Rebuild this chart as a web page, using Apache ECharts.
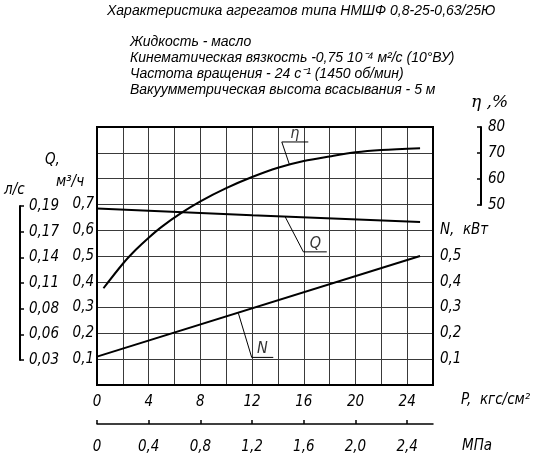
<!DOCTYPE html>
<html><head><meta charset="utf-8">
<script src="https://cdn.jsdelivr.net/npm/echarts@6/dist/echarts.min.js"></script>
<style>html,body{margin:0;padding:0;background:#fff}#c{width:549px;height:465px}</style>
</head><body><div id="c"></div>
<script>
// ---- data ----
const qP = [0, 12, 25];
const qV = [0.684, 0.658, 0.632];            // Q, м³/ч
const nP = [0, 25];
const nV = [0.11, 0.50];                     // N, кВт
const etaP = [0.5, 2, 3, 4, 5, 6.5, 8, 10, 12, 14, 16, 18, 20, 22, 25];
const etaV = [17.5, 27, 32.4, 37.1, 41.3, 46.6, 51.2, 56.3, 60.6, 64.2, 66.8, 68.6, 70.2, 71.1, 71.8]; // η, %
const pTicks = [0, 4, 8, 12, 16, 20, 24];
const mpaLabels = ['0', '0,4', '0,8', '1,2', '1,6', '2,0', '2,4'];
const qTicks = [0.1, 0.2, 0.3, 0.4, 0.5, 0.6, 0.7];
const qLabels = ['0,1', '0,2', '0,3', '0,4', '0,5', '0,6', '0,7'];
const lsLabels = ['0,03', '0,06', '0,08', '0,11', '0,14', '0,17', '0,19'];
const nTicks = [0.1, 0.2, 0.3, 0.4, 0.5, 0.6];
const nLabels = ['0,1', '0,2', '0,3', '0,4', '0,5', 'N,  кВт'];
const etaTicks = [50, 60, 70, 80];
// leader lines (in P / Q-axis units)
const etaLeaderP = [14.88, 14.3, 16.35], etaLeaderV = [0.856, 0.942, 0.942];
const qLeaderP = [14.55, 15.97, 17.78], qLeaderV = [0.653, 0.516, 0.516];
const nLeaderP = [10.94, 11.97, 13.64], nLeaderV = [0.278, 0.107, 0.107];
const tagNames = ['η', 'Q', 'N'];
const tagP = [15.3, 16.9, 12.8];
const tagV = [0.942, 0.516, 0.107];

const zip = (a, b) => a.map((v, i) => [v, b[i]]);
const FN = "'Liberation Sans Narrow','DejaVu Sans Condensed','Liberation Sans',sans-serif";
const lab = {fontFamily: FN, fontStyle: 'italic', fontSize: 15, color: '#000'};
const black = '#000';
const TF = 'italic 14px "Liberation Sans", Arial, sans-serif';

const chart = echarts.init(document.getElementById('c'), null, {renderer: 'canvas'});
chart.setOption({
  animation: false,
  grid: [
    {left: 97, top: 127, width: 336, height: 258, show: true, borderColor: black, borderWidth: 2, backgroundColor: 'transparent', z: 3},
    {left: 20, top: 206, width: 10, height: 154},
    {left: 481, top: 127, width: 10, height: 78}
  ],
  xAxis: [
    {gridIndex: 0, type: 'value', min: 0, max: 26, interval: 2,
      axisLine: {show: false}, axisTick: {show: false},
      splitLine: {show: true, lineStyle: {color: '#3a3a3a', width: 1}},
      axisLabel: Object.assign({customValues: pTicks, margin: 10, formatter: v => String(v)}, lab)},
    {gridIndex: 0, type: 'value', min: 0, max: 26, position: 'bottom', offset: 39,
      axisLine: {show: true, onZero: false, lineStyle: {color: black, width: 1.5}},
      axisTick: {show: true, customValues: pTicks, length: 4, inside: true, lineStyle: {color: black, width: 1.5}},
      splitLine: {show: false},
      axisLabel: Object.assign({customValues: pTicks, margin: 16, formatter: v => mpaLabels[pTicks.indexOf(v)]}, lab)},
    {gridIndex: 1, type: 'value', show: false},
    {gridIndex: 2, type: 'value', show: false}
  ],
  yAxis: [
    {gridIndex: 0, type: 'value', min: 0, max: 1, interval: 0.1, position: 'left',
      axisLine: {show: false}, axisTick: {show: false},
      splitLine: {show: true, lineStyle: {color: '#3a3a3a', width: 1}},
      axisLabel: Object.assign({customValues: qTicks, margin: 3, formatter: v => qLabels[qTicks.indexOf(v)], padding: [6, 0, 0, 0]}, lab)},
    {gridIndex: 0, type: 'value', min: 0, max: 1, position: 'right',
      axisLine: {show: false}, axisTick: {show: false}, splitLine: {show: false},
      axisLabel: Object.assign({customValues: nTicks, margin: 7, formatter: v => nLabels[nTicks.indexOf(v)], padding: [6, 0, 0, 0]}, lab)},
    {gridIndex: 0, type: 'value', min: -20, max: 80, show: false},
    {gridIndex: 1, type: 'value', min: 0.1, max: 0.7, position: 'left',
      axisLine: {show: true, onZero: false, lineStyle: {color: black, width: 2}},
      axisTick: {show: true, inside: true, length: 4, customValues: qTicks, lineStyle: {color: black, width: 1.5}},
      splitLine: {show: false},
      axisLabel: Object.assign({inside: true, margin: 9, customValues: qTicks, formatter: v => lsLabels[qTicks.indexOf(v)], padding: [6, 0, 0, 0]}, lab)},
    {gridIndex: 2, type: 'value', min: 50, max: 80, interval: 10, position: 'left',
      axisLine: {show: true, onZero: false, lineStyle: {color: black, width: 2}},
      axisTick: {show: true, inside: false, length: 4, customValues: etaTicks, lineStyle: {color: black, width: 1.5}},
      splitLine: {show: false},
      axisLabel: Object.assign({inside: true, margin: 7, customValues: etaTicks, formatter: v => String(v), padding: [6, 0, 0, 0]}, lab)}
  ],
  series: [
    {type: 'line', xAxisIndex: 0, yAxisIndex: 0, data: zip(qP, qV), symbol: 'none', lineStyle: {color: black, width: 2}, z: 5},
    {type: 'line', xAxisIndex: 0, yAxisIndex: 1, data: zip(nP, nV), symbol: 'none', lineStyle: {color: black, width: 2}, z: 5},
    {type: 'line', xAxisIndex: 0, yAxisIndex: 2, data: zip(etaP, etaV), smooth: 0.3, symbol: 'none', lineStyle: {color: black, width: 2}, z: 5},
    {type: 'line', xAxisIndex: 0, yAxisIndex: 0, data: zip(etaLeaderP, etaLeaderV), symbol: 'none', lineStyle: {color: black, width: 1}, z: 5},
    {type: 'line', xAxisIndex: 0, yAxisIndex: 0, data: zip(qLeaderP, qLeaderV), symbol: 'none', lineStyle: {color: black, width: 1}, z: 5},
    {type: 'line', xAxisIndex: 0, yAxisIndex: 0, data: zip(nLeaderP, nLeaderV), symbol: 'none', lineStyle: {color: black, width: 1}, z: 5},
    {type: 'scatter', xAxisIndex: 0, yAxisIndex: 0, symbolSize: 1, itemStyle: {color: 'transparent'}, z: 6,
      data: tagP.map((p, i) => ({value: [p, tagV[i]], name: tagNames[i]})),
      label: Object.assign({show: true, position: 'top', distance: 0, formatter: p => p.name}, lab, {fontSize: 16})}
  ],
  graphic: [
    {type: 'text', left: 107, top: 4, style: {text: 'Характеристика агрегатов типа НМШФ 0,8-25-0,63/25Ю', font: TF, fill: black}},
    {type: 'text', left: 130, top: 34, style: {text: 'Жидкость - масло\nКинематическая вязкость -0,75 10⁻⁴ м²/с (10°ВУ)\nЧастота вращения - 24 с⁻¹ (1450 об/мин)\nВакуумметрическая высота всасывания - 5 м', font: TF, lineHeight: 16, fill: black}},
    {type: 'text', left: 471, top: 94, style: {text: 'η ,%', font: 'italic 17px "DejaVu Serif", serif', fill: black}},
    {type: 'text', left: 45, top: 153, style: {text: 'Q,', font: 'italic 15px ' + FN, fill: black}},
    {type: 'text', left: 56, top: 175, style: {text: 'м³/ч', font: 'italic 15px ' + FN, fill: black}},
    {type: 'text', left: 4, top: 183, style: {text: 'л/с', font: 'italic 15px ' + FN, fill: black}},
    {type: 'text', left: 461, top: 393, style: {text: 'P,  кгс/см²', font: 'italic 15px ' + FN, fill: black}},
    {type: 'text', left: 462, top: 439, style: {text: 'МПа', font: 'italic 15px ' + FN, fill: black}}
  ]
});
</script></body></html>
